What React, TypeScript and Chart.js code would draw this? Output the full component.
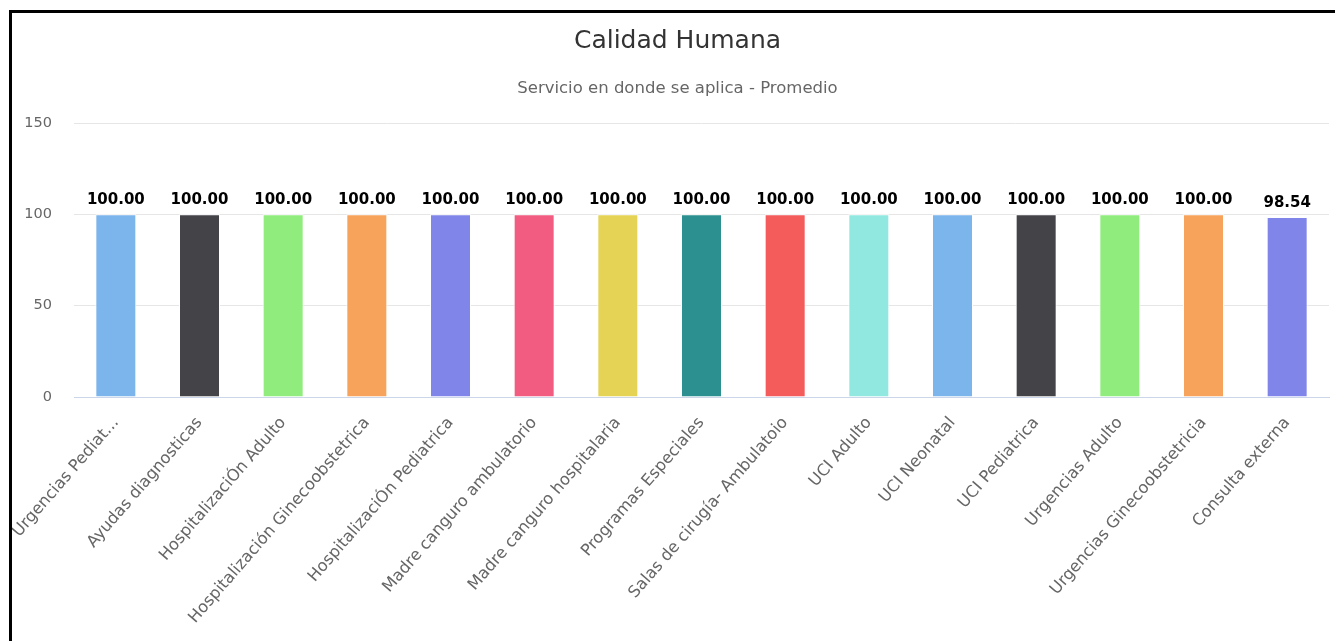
import React, { useEffect, useRef } from "react";
import { Chart, registerables } from "chart.js";

Chart.register(...registerables);

const TITLE = "Calidad Humana";
const SUBTITLE = "Servicio en donde se aplica - Promedio";

const categories: string[] = [
  "Urgencias Pediat...",
  "Ayudas diagnosticas",
  "HospitalizaciÓn Adulto",
  "Hospitalización Ginecoobstetrica",
  "HospitalizaciÓn Pediatrica",
  "Madre canguro ambulatorio",
  "Madre canguro hospitalaria",
  "Programas Especiales",
  "Salas de cirugía- Ambulatoio",
  "UCI Adulto",
  "UCI Neonatal",
  "UCI Pediatrica",
  "Urgencias Adulto",
  "Urgencias Ginecoobstetricia",
  "Consulta externa",
];

const values: number[] = [
  100, 100, 100, 100, 100, 100, 100, 100, 100, 100, 100, 100, 100, 100, 98.54,
];

const barColors: string[] = [
  "#7cb5ec", "#434348", "#90ed7d", "#f7a35c", "#8085e9",
  "#f15c80", "#e4d354", "#2b908f", "#f45b5b", "#91e8e1",
  "#7cb5ec", "#434348", "#90ed7d", "#f7a35c", "#8085e9",
];

const yTicks: number[] = [0, 50, 100, 150];

const FONT = "'DejaVu Sans', sans-serif";

const CANVAS_W = 1323;
const CANVAS_H = 628;

const titlePlugin = {
  id: "customTitles",
  afterDraw(chart: any) {
    const ctx = chart.ctx;
    ctx.save();
    ctx.textAlign = "center";
    ctx.textBaseline = "alphabetic";
    ctx.fillStyle = "#333333";
    ctx.font = `25px ${FONT}`;
    ctx.fillText(TITLE, 665.5, 35);
    ctx.fillStyle = "#666666";
    ctx.font = `16.5px ${FONT}`;
    ctx.fillText(SUBTITLE, 665.5, 80);
    ctx.restore();
  },
};

const dataLabelPlugin = {
  id: "barValueLabels",
  afterDatasetsDraw(chart: any) {
    const ctx = chart.ctx;
    const meta = chart.getDatasetMeta(0);
    const data = chart.data.datasets[0].data as number[];
    ctx.save();
    ctx.font = `bold 15px ${FONT}`;
    ctx.textAlign = "center";
    ctx.textBaseline = "alphabetic";
    ctx.lineJoin = "round";
    meta.data.forEach((bar: any, i: number) => {
      const txt = Number(data[i]).toFixed(2);
      const x = bar.x;
      const y = bar.y - 10;
      ctx.strokeStyle = "#ffffff";
      ctx.lineWidth = 2;
      ctx.strokeText(txt, x, y);
      ctx.fillStyle = "#000000";
      ctx.fillText(txt, x, y);
    });
    ctx.restore();
  },
};

function BarChart() {
  const ref = useRef<HTMLCanvasElement | null>(null);
  useEffect(() => {
    if (!ref.current) return;
    const chart = new Chart(ref.current, {
      type: "bar",
      data: {
        labels: categories,
        datasets: [
          {
            data: values,
            backgroundColor: barColors,
            borderColor: "#ffffff",
            borderWidth: 1,
            barPercentage: 0.49,
            categoryPercentage: 1,
          },
        ],
      },
      options: {
        animation: false,
        responsive: true,
        maintainAspectRatio: false,
        layout: { padding: { top: 110, right: 6, left: 0, bottom: 0 } },
        plugins: {
          legend: { display: false },
          title: { display: false },
          tooltip: { enabled: false },
        },
        scales: {
          x: {
            grid: { display: false, drawTicks: false },
            border: { display: true, color: "#ccd6eb", width: 1 },
            ticks: {
              autoSkip: false,
              maxRotation: 49,
              minRotation: 49,
              color: "#666666",
              font: { family: FONT, size: 16.3 },
              padding: 16.5,
              labelOffset: 0,
            },
            afterFit(scale: any) {
              scale.height = 244;
              scale.paddingLeft = 0;
              scale.paddingRight = 0;
            },
          },
          y: {
            min: 0,
            max: 150,
            afterBuildTicks(scale: any) {
              scale.ticks = yTicks.map((v) => ({ value: v }));
            },
            grid: { color: "#e6e6e6", lineWidth: 1, drawTicks: false },
            border: { display: false },
            ticks: {
              color: "#666666",
              font: { family: FONT, size: 14.5 },
              padding: 22,
            },
            afterFit(scale: any) {
              scale.width = 62;
            },
          },
        },
      },
      plugins: [titlePlugin, dataLabelPlugin],
    });
    return () => chart.destroy();
  }, []);
  return (
    <div style={{ position: "relative", width: CANVAS_W, height: CANVAS_H }}>
      <canvas ref={ref} />
    </div>
  );
}

export default function App() {
  return (
    <div
      style={{
        position: "absolute",
        left: 9,
        top: 10,
        width: 1326,
        height: 631,
        boxSizing: "border-box",
        borderLeft: "3px solid #000",
        borderTop: "3px solid #000",
        overflow: "hidden",
        background: "#ffffff",
      }}
    >
      <BarChart />
    </div>
  );
}
